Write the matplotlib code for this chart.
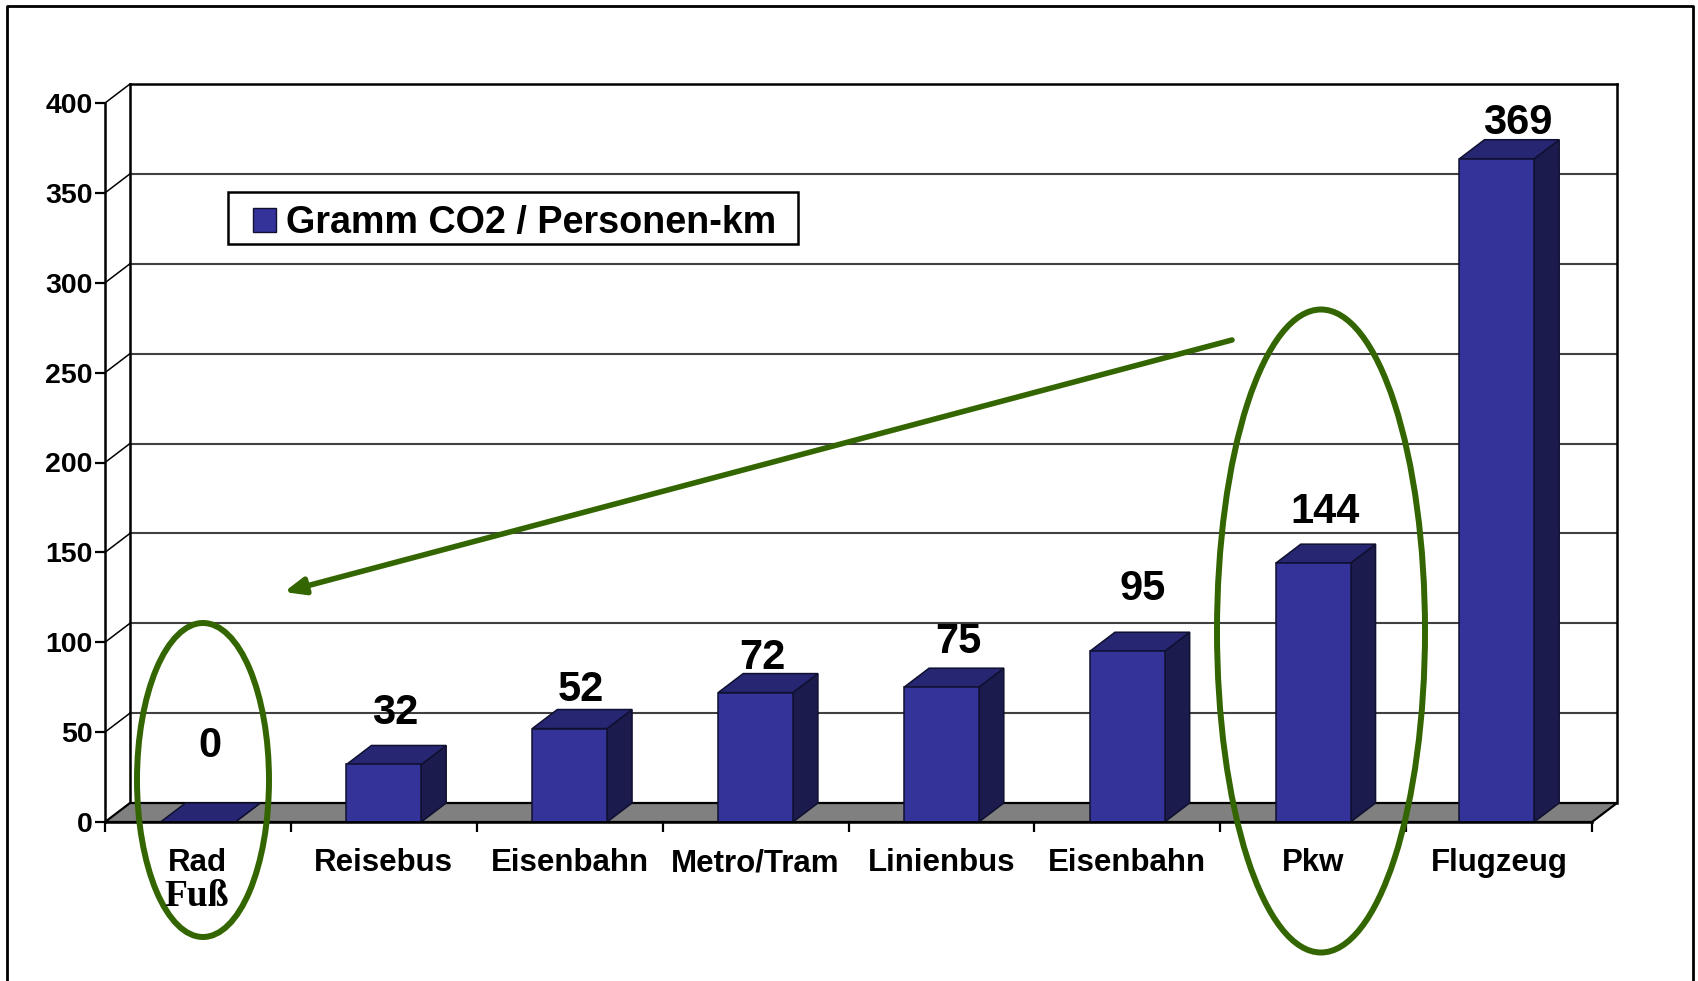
#! /usr/bin/python
# coding: utf-8

import matplotlib
matplotlib.use('Agg')  # Generate images without having a window appear
import matplotlib.pyplot as plt
from matplotlib.patches import Ellipse, Patch, Polygon, Rectangle

categories = ['Rad', 'Reisebus', 'Eisenbahn', 'Metro/Tram', 'Linienbus',
              'Eisenbahn', 'Pkw', 'Flugzeug']
co2_per_km = [0, 32, 52, 72, 75, 95, 144, 369]
y_ticks = [0, 50, 100, 150, 200, 250, 300, 350, 400]
legend_label = 'Gramm CO2 / Personen-km'

W, H = 1698, 981
FONT = 'Liberation Sans'
FRONT = '#333399'
TOP = '#262673'
SIDE = '#1b1b4d'
FLOOR = '#808080'
GREEN = '#336600'

# plot box in pixels
LEFT, RIGHT, TOP_Y, BOTTOM_Y = 105, 1592, 103, 822
# 3d depth in data units
DX = 25 / ((RIGHT - LEFT) / len(categories))
DY = 19 / ((BOTTOM_Y - TOP_Y) / 400)
BAR_WIDTH = 0.402

# value labels sit by hand around the bars: x shift, y above the bar top (px)
label_shift = [(12, 76), (11, 51), (11, 39), (7, 35),
               (17, 45), (15, 62), (12, 51), (21, 36)]
# the last bar stands a little closer to its neighbour
bar_shift = [0, 0, 0, 0, 0, 0, 0, -0.012]

fig = plt.figure(figsize=(W / 100, H / 100), dpi=100, facecolor='white')
ax = fig.add_axes([LEFT / W, 1 - BOTTOM_Y / H,
                   (RIGHT - LEFT) / W, (BOTTOM_Y - TOP_Y) / H])
ax.set_xlim(0, len(categories))
ax.set_ylim(0, 400)
ax.patch.set_visible(False)
for name in ['top', 'right']:
    ax.spines[name].set_visible(False)
for name in ['left', 'bottom']:
    ax.spines[name].set_linewidth(1.8)
    ax.spines[name].set_zorder(6)

# back wall, side wall and gridlines
for tick in y_ticks[1:]:
    color, lw = ('black', 1.8) if tick == 400 else ('#404040', 1.5)
    ax.plot([DX, len(categories) + DX], [tick + DY, tick + DY], color=color,
            lw=lw, clip_on=False, zorder=1)
    ax.plot([0, DX], [tick, tick + DY], color='black', lw=1.1, clip_on=False,
            zorder=1)
for x in [DX, len(categories) + DX]:
    ax.plot([x, x], [DY, 400 + DY], color='black', lw=1.8, clip_on=False,
            zorder=1)

# floor
ax.add_patch(Polygon([(0, 0), (DX, DY), (len(categories) + DX, DY),
                      (len(categories), 0)], closed=True, facecolor=FLOOR,
                     edgecolor='black', lw=1.6, clip_on=False, zorder=2))

# bars with their top and side faces
for i, value in enumerate(co2_per_km):
    center = i + 0.5 + bar_shift[i]
    x0 = center - BAR_WIDTH / 2
    x1 = center + BAR_WIDTH / 2
    ax.add_patch(Polygon([(x1, 0), (x1 + DX, DY), (x1 + DX, value + DY),
                          (x1, value)], closed=True, facecolor=SIDE,
                         edgecolor='#101030', lw=1.1, clip_on=False, zorder=3))
    ax.add_patch(Polygon([(x0, value), (x0 + DX, value + DY),
                          (x1 + DX, value + DY), (x1, value)], closed=True,
                         facecolor=TOP, edgecolor='#101030', lw=1.1,
                         clip_on=False, zorder=3))
    ax.bar(center, value, BAR_WIDTH, color=FRONT, edgecolor='#101030',
           linewidth=1.1, zorder=4)
    shift_x, shift_y = label_shift[i]
    ax.annotate(str(value), (center, value), xytext=(shift_x * 0.72, shift_y * 0.72),
                textcoords='offset points', ha='center', va='center',
                fontsize=30, fontweight='bold', family=FONT, zorder=5)

# axes ticks and labels
ax.set_yticks(y_ticks)
ax.set_yticklabels([str(t) for t in y_ticks], fontsize=20.5, fontweight='bold',
                   family=FONT)
ax.tick_params(axis='y', length=7, width=1.6, pad=2)
ax.set_xticks(range(len(categories) + 1))
ax.set_xticklabels([])
ax.tick_params(axis='x', length=7, width=1.6)
ax.set_xticks([i + 0.5 for i in range(len(categories))], minor=True)
ax.set_xticklabels(categories, minor=True, fontsize=22.5, fontweight='bold',
                   family=FONT)
ax.tick_params(axis='x', which='minor', length=0, pad=19)

legend = ax.legend(handles=[Patch(facecolor=FRONT, edgecolor='#101030',
                                  label=legend_label)],
                   loc='center left', bbox_to_anchor=(253 / W, 1 - 223 / H),
                   bbox_transform=fig.transFigure, frameon=False,
                   borderaxespad=0, borderpad=0,
                   prop={'family': FONT, 'weight': 'bold', 'size': 27.2},
                   handlelength=0.6, handleheight=0.6, handletextpad=0.28)
legend.set_zorder(7)

# overlay in pixel coordinates for the page frame and hand drawn marks
over = fig.add_axes([0, 0, 1, 1])
over.set_xlim(0, W)
over.set_ylim(H, 0)
over.axis('off')
over.plot([7, 7, 1693, 1693], [H, 6, 6, H], color='black', lw=2)
over.add_patch(Rectangle((228, 192), 570, 52, fill=False, edgecolor='black', lw=1.8))
over.text(197, 897, 'Fuß', family='Liberation Serif', fontweight='bold',
          fontsize=27, ha='center', va='center')
over.add_patch(Ellipse((203, 780), 132, 314, fill=False, edgecolor=GREEN, lw=4.3))
over.add_patch(Ellipse((1321, 631), 208, 643, fill=False, edgecolor=GREEN, lw=4.3))
over.annotate('', xy=(284, 592), xytext=(1232, 340),
              arrowprops=dict(arrowstyle='-|>,head_length=0.6,head_width=0.25',
                              color=GREEN, lw=4, mutation_scale=20,
                              shrinkA=0, shrinkB=0))

plt.savefig('out.png', dpi=100)
